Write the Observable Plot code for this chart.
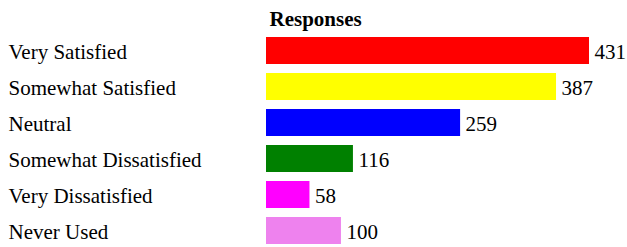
<!DOCTYPE html>
<html>
<head>
<meta charset="utf-8">
<script src="https://cdn.jsdelivr.net/npm/d3@7"></script>
<script src="https://cdn.jsdelivr.net/npm/@observablehq/plot@0.6"></script>
<style>
  html, body { margin: 0; padding: 0; background: #fff; }
  svg text { font-family: 'Liberation Serif', 'Times New Roman', serif; }
</style>
</head>
<body>
<div id="chart"></div>
<script>
const categories = ["Very Satisfied", "Somewhat Satisfied", "Neutral", "Somewhat Dissatisfied", "Very Dissatisfied", "Never Used"];
const responses = [431, 387, 259, 116, 58, 100];
const colors = ["#ff0000", "#ffff00", "#0000ff", "#008000", "#ff00ff", "#ee82ee"];
const title = "Responses";

const data = categories.map((c, i) => ({category: c, value: responses[i], color: colors[i]}));
const font = "'Liberation Serif', 'Times New Roman', serif";
const fs = 21;

const chart = Plot.plot({
  width: 627,
  height: 247,
  marginLeft: 266,
  marginRight: 38,
  marginTop: 35,
  marginBottom: 0,
  style: {fontFamily: font, fontSize: fs + "px", color: "#000", background: "#fff"},
  x: {domain: [0, d3.max(responses)], axis: null},
  y: {domain: categories, axis: null, paddingInner: 0.24, paddingOuter: 0},
  color: {type: "identity"},
  marks: [
    Plot.barX(data, {y: "category", x: "value", fill: "color"}),
    Plot.text(data, {y: "category", x: "value", text: d => String(d.value), textAnchor: "start", dx: 5, dy: 1, fill: "#000", fontSize: fs, fontFamily: font}),
    Plot.text(data, {y: "category", text: "category", frameAnchor: "left", textAnchor: "start", dx: -258, dy: 1, fill: "#000", fontSize: fs, fontFamily: font}),
    Plot.text([title], {frameAnchor: "top-left", text: d => d, textAnchor: "start", lineAnchor: "middle", dx: 3, dy: -16, fontWeight: "bold", fontSize: fs, fontFamily: font, fill: "#000"})
  ]
});
document.getElementById("chart").appendChild(chart);
</script>
</body>
</html>
